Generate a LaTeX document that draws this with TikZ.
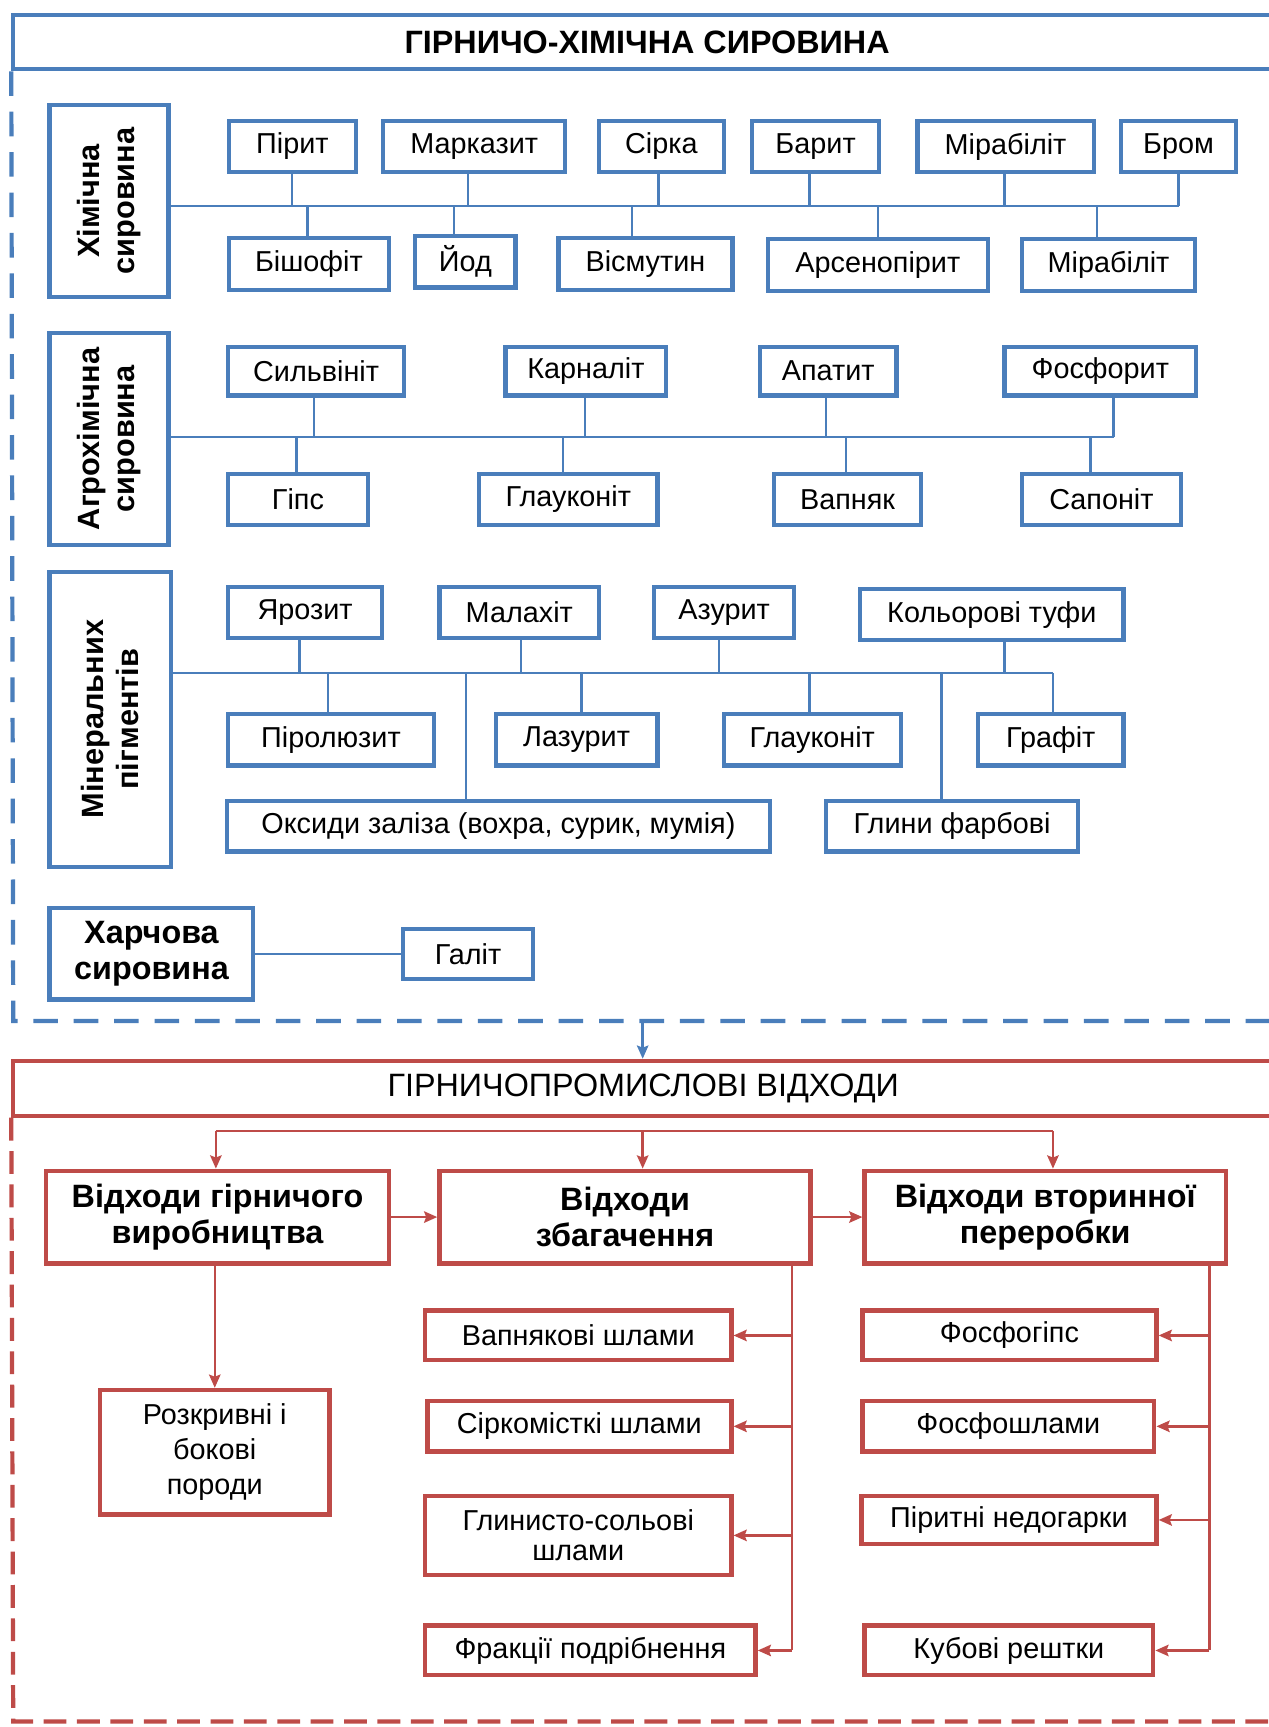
\documentclass[tikz,border=0pt]{standalone}
\usepackage{fontspec}
\setmainfont{Liberation Sans}
\usetikzlibrary{arrows.meta}
\definecolor{hblue}{RGB}{74,126,187}
\definecolor{hred}{RGB}{190,75,72}
\newcommand{\pxu}{0.022032cm}
\newcommand{\lblfont}{\fontsize{16.4}{20}\selectfont}
\newcommand{\grpfont}{\fontsize{18.4}{20.6}\selectfont\bfseries}
\tikzset{sz/.style 2 args={minimum width=#1*\pxu, minimum height=#2*\pxu},
    bluebox/.style={draw=hblue, line width=2.4pt, inner sep=0pt, align=center, font=\lblfont},
    bluegrp/.style={bluebox, font=\fontsize{17.5}{20}\selectfont\bfseries},
    redbox/.style={draw=hred, line width=2.5pt, inner sep=0pt, align=center, font=\lblfont},
    redgrp/.style={redbox, font=\grpfont},
    btitle/.style={draw=hblue, line width=2.2pt, inner sep=0pt, font=\fontsize{18.4}{22}\selectfont\bfseries},
    rtitle/.style={draw=hred, line width=2.2pt, inner sep=0pt, font=\fontsize{18.4}{22}\selectfont},
    bline/.style={draw=hblue, line width=1.4pt},
    redline/.style={draw=hred, line width=1.4pt},
    barrow/.style={bline, -{Stealth[length=7.5pt,width=6.5pt,inset=1.2pt]}},
    rarrow/.style={redline, -{Stealth[length=7.5pt,width=6.5pt,inset=1.2pt]}},
    bdash/.style={draw=hblue, line width=2.4pt, dash pattern=on 14pt off 9pt},
    rdash/.style={draw=hred, line width=2.4pt, dash pattern=on 13pt off 6pt}}

\begin{document}
\begin{tikzpicture}[x=0.022032cm, y=-0.022032cm]
        \useasboundingbox (0,0) rectangle (1152,1568);
        \clip (0,0) rectangle (1152,1568);
        % raw materials
        \node[btitle, sz={1151}{49}] (top) at (587.5,38.5) {ГІРНИЧО-ХІМІЧНА СИРОВИНА};
        \draw[bdash] (top.south west) -- (12,927) -- (1160,927);

        \node[bluegrp, rotate=90, sz={175}{108}] (chem) at (99,182.5) {Хімічна\\сировина};
        \node[bluebox, sz={115}{46}] (pirit) at (265.5,133) {Пірит};
        \node[bluebox, sz={165}{46}] (markazit) at (430.5,133) {Марказит};
        \node[bluebox, sz={113}{46}] (sirka) at (600.5,133) {Сірка};
        \node[bluebox, sz={115}{46}] (baryt) at (740.5,133) {Барит};
        \node[bluebox, sz={160}{46}] (mirab) at (913,133) {Мірабіліт};
        \node[bluebox, sz={104}{46}] (brom) at (1070,133) {Бром};
        \node[bluebox, sz={145}{47}] (bishofit) at (280.5,239.5) {Бішофіт};
        \node[bluebox, sz={91}{47}] (yod) at (422.5,237.5) {Йод};
        \node[bluebox, sz={158}{47}] (bismut) at (586,239.5) {Вісмутин};
        \node[bluebox, sz={200}{47}] (arseno) at (797,240.5) {Арсенопірит};
        \node[bluebox, sz={157}{47}] (mirab2) at (1006.5,240.5) {Мірабіліт};
        \coordinate (chembus) at (1070,187);
        % rotated box: south is its right side
        \draw[bline] (chem.south |- chembus) -- (chembus);
        \foreach \n/\x/\a in {pirit/265/south, markazit/425/south, sirka/598/south, baryt/735/south,
            mirab/912/south, brom/1070/south, bishofit/279/north, yod/412/north, bismut/574/north,
            arseno/797/north, mirab2/996/north}
            {\coordinate (j) at (\x,187); \draw[bline] (j) -- (j |- \n.\a);}

        \node[bluegrp, rotate=90, sz={193}{108}] (agro) at (99,398.5) {Агрохімічна\\сировина};
        \node[bluebox, sz={160}{44}] (sylvin) at (287,337) {Сильвініт};
        \node[bluebox, sz={146}{44}] (karnal) at (532,337) {Карналіт};
        \node[bluebox, sz={124}{44}] (apatit) at (752,337) {Апатит};
        \node[bluebox, sz={174}{44}] (fosfor) at (999,337) {Фосфорит};
        \node[bluebox, sz={127}{47}] (gyps) at (270.5,453.5) {Гіпс};
        \node[bluebox, sz={162}{47}] (glauk) at (516,453.5) {Глауконіт};
        \node[bluebox, sz={133}{47}] (vapnyak) at (769.5,453.5) {Вапняк};
        \node[bluebox, sz={144}{47}] (sapon) at (1000,453.5) {Сапоніт};
        \coordinate (agrobus) at (1011,397);
        \draw[bline] (agro.south |- agrobus) -- (agrobus);
        \foreach \n/\x/\a in {sylvin/285/south, karnal/531/south, apatit/750/south, fosfor/1011/south,
            gyps/269/north, glauk/511/north, vapnyak/768/north, sapon/990/north}
            {\coordinate (j) at (\x,397); \draw[bline] (j) -- (j |- \n.\a);}

        \node[bluegrp, rotate=90, sz={268}{110}] (miner) at (100,653) {Мінеральних\\пігментів};
        \node[bluebox, sz={140}{46}] (yarozit) at (277,556) {Ярозит};
        \node[bluebox, sz={145}{46}] (malach) at (471.5,556) {Малахіт};
        \node[bluebox, sz={127}{46}] (azurit) at (657.5,556) {Азурит};
        \node[bluebox, sz={239}{46}] (tufy) at (900.5,558) {Кольорові туфи};
        \node[bluebox, sz={187}{47}] (pyrol) at (300.5,671.5) {Піролюзит};
        \node[bluebox, sz={147}{47}] (lazur) at (523.5,671.5) {Лазурит};
        \node[bluebox, sz={161}{47}] (glauk2) at (737.5,671.5) {Глауконіт};
        \node[bluebox, sz={132}{47}] (graft) at (954,671.5) {Графіт};
        \node[bluebox, sz={493}{46}] (oksyd) at (452.5,750) {Оксиди заліза (вохра,\ сурик, мумія)};
        \node[bluebox, sz={229}{46}] (glyny) at (864.5,750) {Глини фарбові};
        \coordinate (minbus) at (956,611);
        \draw[bline] (miner.south |- minbus) -- (minbus);
        \foreach \n/\x/\a in {yarozit/272/south, malach/473/south, azurit/653/south, tufy/912/south,
            pyrol/298/north, lazur/528/north, glauk2/735/north, graft/956/north,
            oksyd/423/north, glyny/855/north}
            {\coordinate (j) at (\x,611); \draw[bline] (j) -- (j |- \n.\a);}

        \node[bluebox, sz={185}{83}, font=\grpfont] (food) at (137.5,866) {Харчова\\сировина};
        \node[bluebox, sz={118}{45}] (halit) at (425,866) {Галіт};
        \draw[bline] (food) -- (halit);

        % wastes
        \node[rtitle, sz={1144}{50}] (bottom) at (584,988) {ГІРНИЧОПРОМИСЛОВІ ВІДХОДИ};
        \coordinate (bout) at (583.5,927);
        \draw[barrow] (bout) -- (bout |- bottom.north);
        \draw[rdash] (bottom.south west) -- (12,1563) -- (1160,1563);

        \node[redgrp, sz={311}{84}] (mining) at (197.5,1105) {Відходи гірничого\\виробництва};
        \node[redgrp, sz={337}{84}] (enrich) at (567.5,1105) {Відходи\\збагачення};
        \node[redgrp, sz={328}{84}] (second) at (949,1105) {Відходи вторинної\\переробки};
        \coordinate (dl) at (196,1027);
        \coordinate (dm) at (583.5,1027);
        \coordinate (dr) at (956,1027);
        \draw[redline] (dl) -- (dr);
        \foreach \c/\n in {dl/mining, dm/enrich, dr/second}
            \draw[rarrow] (\c) -- (\c |- \n.north);
        \draw[rarrow] (mining) -- (enrich);
        \draw[rarrow] (enrich) -- (second);

        \node[redbox, sz={208}{113}] (rozkr) at (195,1318.5) {Розкривні і\\бокові\\породи};
        \draw[rarrow] (mining.south -| rozkr) -- (rozkr.north);

        \node[redbox, sz={278}{45}] (vapn) at (525,1212.5) {Вапнякові шлами};
        \node[redbox, sz={276}{46}] (sirkom) at (526,1295) {Сіркомісткі шлами};
        \node[redbox, sz={278}{72}, font=\fontsize{16.4}{17}\selectfont] (glyn) at (525,1394) {Глинисто-сольові\\шлами};
        \node[redbox, sz={300}{45}] (frakc) at (536,1498.5) {Фракції подрібнення};
        \coordinate (ev) at (719,1498.5);
        \draw[redline] (ev |- enrich.south) -- (ev);
        \foreach \n in {vapn, sirkom, glyn, frakc}
            \draw[rarrow] (ev |- \n.east) -- (\n.east);

        \node[redbox, sz={267}{45}] (fosfog) at (916.5,1212.5) {Фосфогіпс};
        \node[redbox, sz={265}{46}] (fosfosh) at (915.5,1295) {Фосфошлами};
        \node[redbox, sz={268}{44}] (piryt) at (916,1380) {Піритні недогарки};
        \node[redbox, sz={262}{45}] (kubov) at (916,1498.5) {Кубові рештки};
        \coordinate (sv) at (1098,1498.5);
        \draw[redline] (sv |- second.south) -- (sv);
        \foreach \n in {fosfog, fosfosh, piryt, kubov}
            \draw[rarrow] (sv |- \n.east) -- (\n.east);
\end{tikzpicture}
\end{document}
